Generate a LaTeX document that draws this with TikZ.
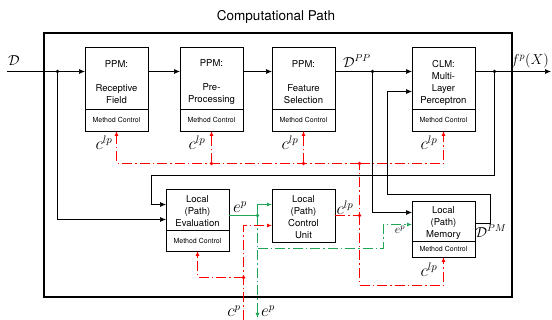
\documentclass[tikz,border=0pt]{standalone}
\usepackage{fontspec}
\setsansfont{TeX Gyre Heros}
\usetikzlibrary{arrows.meta,positioning,calc}
\definecolor{ctlred}{RGB}{255,0,0}
\definecolor{errgreen}{RGB}{30,165,85}

\begin{document}
\begin{tikzpicture}[
    x=1pt, y=-1pt,
    blk/.style={draw, line width=0.8pt, outer sep=0pt, minimum width=63pt, align=center, font=\sffamily\fontsize{9.5}{12}\selectfont, inner sep=1pt},
    mc/.style={draw, line width=0.8pt, outer sep=0pt, minimum width=63pt, anchor=north, font=\sffamily\fontsize{7}{8}\selectfont, inner sep=1pt},
    arr/.style={-{Latex[length=6pt,width=5pt]}, line width=0.7pt},
    ctl/.style={ctlred, line width=1.1pt, dash pattern=on 10pt off 3pt on 1.5pt off 3pt},
    ctlarr/.style={ctl, -{Latex[length=5pt,width=4pt]}},
    err/.style={errgreen, line width=1.1pt},
    errarr/.style={err, -{Latex[length=5pt,width=4pt]}},
    lbl/.style={font=\Large, inner sep=0pt},
    sig/.style={font=\fontsize{16}{18}\selectfont, inner sep=0pt}
]
\useasboundingbox (0,0) rectangle (552,320);

% frame and title
\node[draw, line width=1.6pt, minimum width=468pt, minimum height=264pt] (frame) at (278,165) {};
\node[font=\sffamily\fontsize{13.5}{16}\selectfont] (title) at (276,17) {Computational Path};

% path modules
\node[blk, minimum height=62pt, text height=52pt] (ppm1) at (116.5,78) {PPM:\\[12pt]Receptive\\Field};
\node[mc, minimum height=22pt] (ppm1mc) at (ppm1.south) {Method Control};
\node[blk, minimum height=62pt, text height=52pt] (ppm2) at (211.5,78) {PPM:\\[12pt]Pre-\\Processing};
\node[mc, minimum height=22pt] (ppm2mc) at (ppm2.south) {Method Control};
\node[blk, minimum height=62pt, text height=52pt] (ppm3) at (303.5,78) {PPM:\\[12pt]Feature\\Selection};
\node[mc, minimum height=22pt] (ppm3mc) at (ppm3.south) {Method Control};
\node[blk, minimum height=62pt, text height=53pt] (clm) at (443.5,78) {CLM:\\Multi-\\Layer\\Perceptron};
\node[mc, minimum height=22pt] (clmmc) at (clm.south) {Method Control};

% local units
\node[blk, minimum height=41pt, text height=35pt] (leval) at (197.5,209.5) {Local\\(Path)\\Evaluation};
\node[mc, minimum height=21pt] (levalmc) at (leval.south) {Method Control};
\node[blk, minimum height=53pt, text height=46pt] (ctrl) at (303.5,215.5) {Local\\(Path)\\Control\\Unit};
\node[blk, minimum height=40pt, text height=35pt] (mem) at (443.5,221) {Local\\(Path)\\Memory};
\node[mc, minimum height=16pt] (memmc) at (mem.south) {Method Control};

\coordinate (din) at (7,71.5);
\coordinate (fout) at (551,71.5);
\coordinate (j1) at (57.5,71.5);
\coordinate (j2) at (372.5,71.5);
\coordinate (j3) at (494.5,71.5);

% data flow
\draw[arr] (din) -- (din -| ppm1.west);
\draw[arr] (ppm1.east |- din) -- (ppm2.west |- din);
\draw[arr] (ppm2.east |- din) -- (ppm3.west |- din);
\draw[arr] (ppm3.east |- din) -- (clm.west |- din);
\draw[arr] (clm.east |- din) -- (fout);
\draw[arr] (j1) |- ([yshift=-10pt]leval.west);
\draw[arr] (j2) |- ([yshift=8.5pt]mem.west);
\draw[arr] (j3) |- (151.5,175.5) |- ([yshift=5pt]leval.west);
\draw[arr] ([yshift=-2.5pt]mem.east) -| (490.5,194.5) -| (387.5,91.5) -- (clm.west |- 0,91.5);
\foreach \j in {j1,j2,j3} \fill (\j) circle (1.8pt);

% control signals
\coordinate (r1) at (ctrl.east -| 359.5,0);
\coordinate (r2) at (359.5,163.5);
\coordinate (r3) at (243.5,277.5);
\coordinate (cpin) at (243.5,320);
\draw[ctl] (ctrl.east) -- (r1) -- (r2);
\draw[ctlarr] (r2) -| (ppm1mc.south);
\draw[ctlarr] (r2) -| (clmmc.south);
\draw[ctlarr] (ppm2mc.south |- r2) -- (ppm2mc.south);
\draw[ctlarr] (ppm3mc.south |- r2) -- (ppm3mc.south);
\draw[ctlarr] (r1) |- (memmc.south |- 0,285.5) -- (memmc.south);
\draw[ctlarr] (cpin) |- ([yshift=-10pt]ctrl.west);
\draw[ctlarr] (r3) -| (levalmc.south);
\foreach \p in {r1,r2,r3} \fill[ctlred] (\p) circle (1.8pt);
\fill[ctlred] (ppm2mc.south |- r2) circle (1.8pt);
\fill[ctlred] (ppm3mc.south |- r2) circle (1.8pt);

% evaluation signals
\coordinate (g1) at (257.5,215.5);
\coordinate (epout) at (257.5,318);
\draw[err] ([yshift=-6pt]leval.east) -- (g1);
\draw[errarr] (g1) |- ([yshift=11pt]ctrl.west);
\draw[errarr, dash pattern=on 10pt off 3pt on 1.5pt off 3pt] (g1) -- (epout);
\draw[errarr, dash pattern=on 10pt off 3pt on 1.5pt off 3pt] (g1 |- 0,248.5) -| (383.5,224.5) -- (mem.west |- 0,224.5);
\fill[errgreen] (g1) circle (1.8pt);

% labels
\node[lbl] (dlbl) at (14,61) {$\mathcal{D}$};
\node[lbl] (dpp) at (357,61) {$\mathcal{D}^{PP}$};
\node[lbl] (fx) at (530,61) {$f^p(X)$};
\node[lbl] (dpm) at (491,231) {$\mathcal{D}^{PM}$};
\node[sig] (c1) at (104,143) {$c^{lp}$};
\node[sig] (c2) at (197,143) {$c^{lp}$};
\node[sig] (c3) at (290,143) {$c^{lp}$};
\node[sig] (c4) at (429,143) {$c^{lp}$};
\node[sig] (c5) at (429,270) {$c^{lp}$};
\node[sig] (c6) at (345,208) {$c^{lp}$};
\node[sig] (cp) at (234,311) {$c^p$};
\node[sig] (e1) at (240,207) {$e^p$};
\node[sig] (e2) at (268,311) {$e^p$};
\node[font=\large, inner sep=0pt] (e3) at (400,230) {$e^p$};
\end{tikzpicture}
\end{document}
